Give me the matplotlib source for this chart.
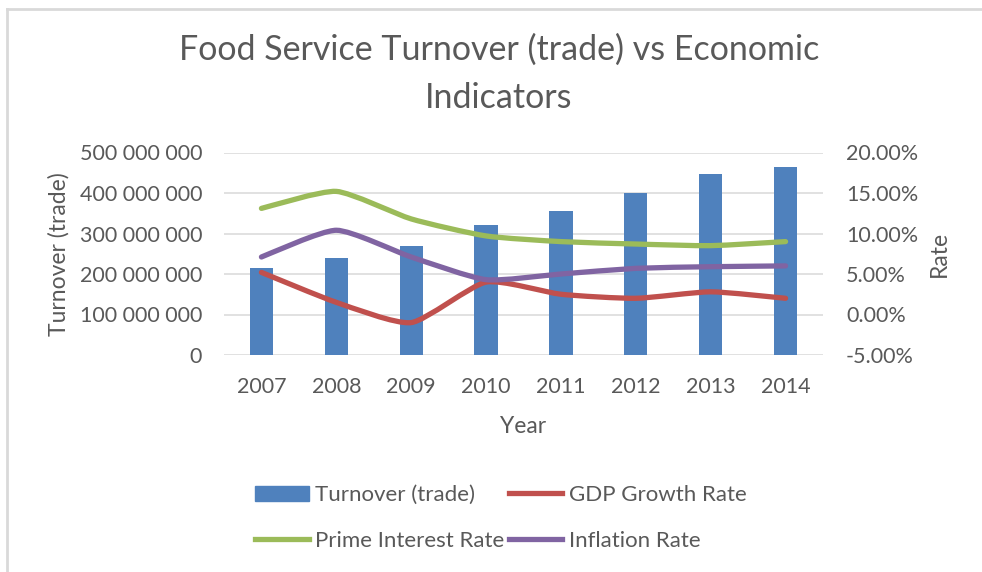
import matplotlib
matplotlib.use("Agg")
import matplotlib.pyplot as plt
from matplotlib.path import Path
from matplotlib.patches import PathPatch, Patch
from matplotlib.lines import Line2D
from matplotlib.ticker import FuncFormatter

plt.rcParams['font.family'] = ['Lato', 'DejaVu Sans']

# Annual figures
years = ['2007', '2008', '2009', '2010', '2011', '2012', '2013', '2014']
turnover = [215e6, 239e6, 270e6, 320e6, 356e6, 400e6, 448e6, 463e6]
gdp_growth = [0.052, 0.015, -0.010, 0.040, 0.025, 0.020, 0.028, 0.020]
prime_rate = [0.131, 0.152, 0.118, 0.097, 0.090, 0.087, 0.085, 0.090]
inflation = [0.071, 0.104, 0.071, 0.043, 0.050, 0.057, 0.059, 0.060]

TEXT = '#595959'
GRID = '#D9D9D9'
BLUE = '#4F81BD'
RED = '#C0504D'
GREEN = '#9BBB59'
PURPLE = '#8064A2'


def smooth_path(xs, ys, k=0.1):
    """Bezier through the points with mild rounding at the joints."""
    n = len(xs)
    verts = [(xs[0], ys[0])]
    codes = [Path.MOVETO]
    for i in range(n - 1):
        p0 = (xs[i - 1], ys[i - 1]) if i > 0 else (xs[i], ys[i])
        p1 = (xs[i], ys[i])
        p2 = (xs[i + 1], ys[i + 1])
        p3 = (xs[i + 2], ys[i + 2]) if i + 2 < n else p2
        c1 = (p1[0] + (p2[0] - p0[0]) * k, p1[1] + (p2[1] - p0[1]) * k)
        c2 = (p2[0] - (p3[0] - p1[0]) * k, p2[1] - (p3[1] - p1[1]) * k)
        verts += [c1, c2, p2]
        codes += [Path.CURVE4] * 3
    return Path(verts, codes)


fig = plt.figure(figsize=(9.82, 5.72), dpi=100)
ax = fig.add_axes([224 / 982, 1 - 355 / 572, 599 / 982, 202.5 / 572])
ax2 = ax.twinx()

x = list(range(len(years)))
ax.bar(x, turnover, width=0.31, color=BLUE, zorder=2)
ax.set_ylim(0, 5e8)
ax.set_xlim(-0.5, len(years) - 0.5)
ax.set_yticks([0, 1e8, 2e8, 3e8, 4e8, 5e8])
ax.yaxis.set_major_formatter(FuncFormatter(lambda v, p: f'{int(v):,}'.replace(',', ' ')))
ax.set_xticks(x)
ax.set_xticklabels(years)
ax.grid(axis='y', color=GRID, lw=1.1, zorder=0)
ax.set_axisbelow(True)

for series, col in [(gdp_growth, RED), (prime_rate, GREEN), (inflation, PURPLE)]:
    ax2.add_patch(PathPatch(smooth_path(x, series), fill=False, edgecolor=col,
                            lw=3.8, capstyle='round', joinstyle='round'))
ax2.set_ylim(-0.05, 0.20)
ax2.set_yticks([-0.05, 0, 0.05, 0.10, 0.15, 0.20])
ax2.yaxis.set_major_formatter(FuncFormatter(lambda v, p: f'{v * 100:.2f}%'))

for a in (ax, ax2):
    for s in a.spines.values():
        s.set_visible(False)
    a.tick_params(length=0, labelsize=15.5, labelcolor=TEXT)
ax.tick_params(axis='y', pad=15.8)
ax.tick_params(axis='x', pad=15.7)
ax2.tick_params(axis='y', pad=16.5)

ax.set_xlabel('Year', fontsize=16.5, color=TEXT, labelpad=14)
ax.set_ylabel('Turnover (trade)', fontsize=16.5, color=TEXT, labelpad=7)
ax2.set_ylabel('Rate', fontsize=16.5, color=TEXT, labelpad=8)

fig.text(499 / 982, 1 - 74 / 572, 'Food Service Turnover (trade) vs Economic\nIndicators',
         ha='center', va='center', fontsize=24.5, color=TEXT, linespacing=1.6)

handles = [Patch(color=BLUE), Line2D([], [], color=GREEN, lw=3.8),
           Line2D([], [], color=RED, lw=3.8), Line2D([], [], color=PURPLE, lw=3.8)]
labels = ['Turnover (trade)', 'Prime Interest Rate', 'GDP Growth Rate', 'Inflation Rate']
fig.legend(handles, labels, ncol=2, loc='center', bbox_to_anchor=(501 / 982, 1 - 518 / 572),
           frameon=False, fontsize=16, labelcolor=TEXT, handlelength=2.4,
           handletextpad=0.3, columnspacing=0.2, labelspacing=1.15)

# chart frame (top and left edges)
fig.add_artist(Line2D([7 / 982, 1], [1 - 9 / 572, 1 - 9 / 572], color=GRID, lw=2))
fig.add_artist(Line2D([7 / 982, 7 / 982], [0, 1 - 9 / 572], color=GRID, lw=2))

fig.savefig('out.png', dpi=100)
